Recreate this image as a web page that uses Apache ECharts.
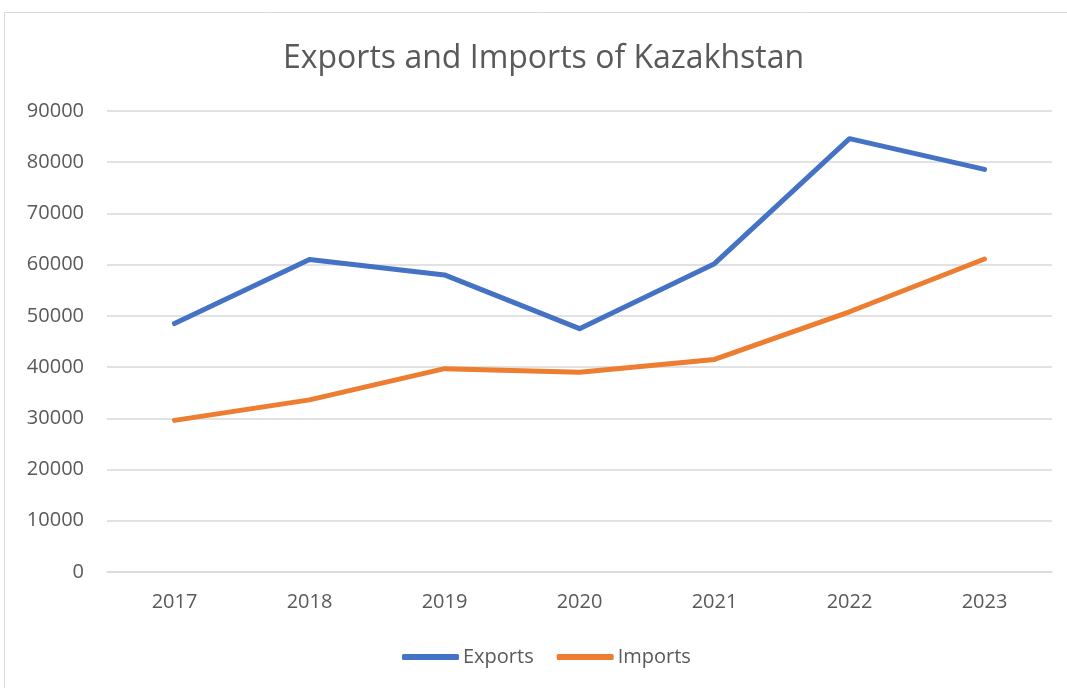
<!DOCTYPE html>
<html><head><meta charset="utf-8">
<script src="https://cdn.jsdelivr.net/npm/echarts@6/dist/echarts.min.js"></script>
<style>html,body{margin:0;padding:0;background:#fff}#c{width:1067px;height:688px}</style>
</head><body><div id="c"></div>
<script>
const categories = ['2017','2018','2019','2020','2021','2022','2023'];
const exportsData = [48500, 61000, 58000, 47500, 60200, 84600, 78600];
const importsData = [29600, 33600, 39700, 39000, 41500, 50800, 61100];
const chart = echarts.init(document.getElementById('c'));
const font = '"Open Sans", sans-serif';
chart.setOption({
  animation: false,
  backgroundColor: '#fff',
  graphic: [{type:'rect', shape:{x:4.5,y:12.5,width:1070,height:690}, style:{fill:'none',stroke:'#D9D9D9',lineWidth:1}, silent:true}],
  title: {text:'Exports and Imports of Kazakhstan', left:278, top:38,
    textStyle:{fontFamily:font, fontSize:32, fontWeight:'normal', color:'#595959'}},
  legend: {bottom:16, left:397, itemWidth:57, itemHeight:6, itemGap:23,
    icon: 'roundRect',
    textStyle:{fontFamily:font, fontSize:20, color:'#595959', padding:[0,0,0,-1]},
    data:[{name:'Exports', itemStyle:{color:'#4472C4'}},
          {name:'Imports', itemStyle:{color:'#ED7D31'}}]},
  grid: {left:107, right:15, top:111, bottom:116, containLabel:false},
  xAxis: {type:'category', data:categories, boundaryGap:true,
    axisLine:{lineStyle:{color:'#D9D9D9',width:1.5}}, axisTick:{show:false},
    axisLabel:{fontFamily:font, fontSize:20, color:'#595959', margin:20}},
  yAxis: {type:'value', min:0, max:90000, interval:10000,
    axisLine:{show:false}, axisTick:{show:false},
    splitLine:{lineStyle:{color:'#D9D9D9', width:1.5}},
    axisLabel:{fontFamily:font, fontSize:20, color:'#595959', margin:23, formatter:function(v){return String(v);}}},
  series: [
    {name:'Exports', type:'line', data:exportsData, showSymbol:false, symbol:'none',
     lineStyle:{color:'#4472C4', width:5, cap:'round', join:'round'}, itemStyle:{color:'#4472C4'}},
    {name:'Imports', type:'line', data:importsData, showSymbol:false, symbol:'none',
     lineStyle:{color:'#ED7D31', width:5, cap:'round', join:'round'}, itemStyle:{color:'#ED7D31'}}
  ]
});
</script></body></html>
